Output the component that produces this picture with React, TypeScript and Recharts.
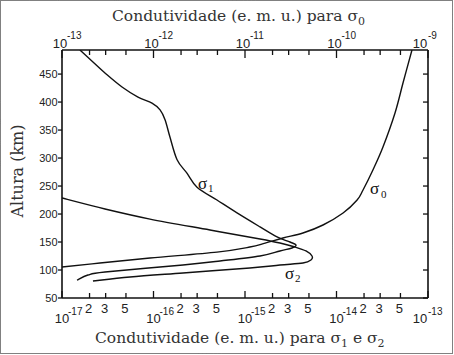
import React from 'react';
import { LineChart, Line, XAxis, YAxis } from 'recharts';

// ---- axes ----
const bottomDecades = [-17, -16, -15, -14, -13];
const topDecades = [-13, -12, -11, -10, -9];
const minorMultipliers = [2, 3, 5];
const altitudeTicks = [50, 100, 150, 200, 250, 300, 350, 400, 450];
const altitudeDomain: [number, number] = [50, 493];

// ---- series (altitude km, conductivity e.m.u.) ----
// sigma0: top axis
const sigma0Alt = [493, 434, 380.5, 319.7, 278.7, 242.9, 225, 201.8, 180.4, 166.1, 157.2, 148, 141, 132, 121.5, 112.5, 105.4];
const sigma0Val = [6.68e-10, 5.33e-10, 4.36e-10, 3.22e-10, 2.5e-10, 1.95e-10, 1.68e-10, 1.18e-10, 7.12e-11, 4.3e-11, 2.6e-11, 1.66e-11, 1.13e-11, 4.94e-12, 9.16e-13, 2.6e-13, 1.0e-13];
// sigma1: bottom axis
const sigma1Alt = [493, 471.6, 452, 427, 409, 398, 386, 368, 338, 297, 273, 248, 225, 202, 177, 159, 150, 144.7, 139.3, 134, 125, 116.1, 109, 96.4, 91, 82];
const sigma1Val = [1.57e-17, 2.18e-17, 2.95e-17, 4.53e-17, 6.77e-17, 9.63e-17, 1.18e-16, 1.34e-16, 1.51e-16, 1.81e-16, 2.32e-16, 2.99e-16, 4.94e-16, 8.18e-16, 1.46e-15, 2.24e-15, 3.1e-15, 3.61e-15, 3.26e-15, 2.41e-15, 1.46e-15, 5.33e-16, 2.1e-16, 2.95e-17, 1.92e-17, 1.46e-17];
// sigma2: bottom axis
const sigma2Alt = [228.6, 209, 191, 171.5, 155.4, 148.2, 141.1, 134, 125, 117.9, 112.5, 108.9, 103.6, 94.7, 87.5, 80.4];
const sigma2Val = [1.0e-17, 2.95e-17, 9.16e-17, 4.14e-16, 1.46e-15, 2.41e-15, 3.52e-15, 4.64e-15, 5.4e-15, 5.26e-15, 4.3e-15, 2.41e-15, 1.13e-15, 2.1e-16, 5.54e-17, 2.18e-17];

const toData = (alt: number[], val: number[]) => alt.map((h, i) => ({ h, s: val[i] }));
const sigma0Data = toData(sigma0Alt, sigma0Val);
const sigma1Data = toData(sigma1Alt, sigma1Val);
const sigma2Data = toData(sigma2Alt, sigma2Val);

type TickInfo = { value: number; major: boolean; label: string; exp: number };
function buildTicks(decades: number[]): TickInfo[] {
  const out: TickInfo[] = [];
  decades.forEach((d, i) => {
    out.push({ value: Number(`1e${d}`), major: true, label: '10', exp: d });
    if (i < decades.length - 1)
      minorMultipliers.forEach((m) => out.push({ value: Number(`${m}e${d}`), major: false, label: String(m), exp: d }));
  });
  return out;
}
const bottomTickInfo = buildTicks(bottomDecades);
const topTickInfo = buildTicks(topDecades);

// smooth parametric curve (Catmull-Rom through the points)
function catmullRom(context: any) {
  let pts: number[][] = [];
  return {
    areaStart() {},
    areaEnd() {},
    lineStart() {
      pts = [];
    },
    point(x: number, y: number) {
      pts.push([+x, +y]);
    },
    lineEnd() {
      if (!pts.length) return;
      context.moveTo(pts[0][0], pts[0][1]);
      for (let i = 0; i < pts.length - 1; i++) {
        const p0 = pts[i - 1] || pts[i];
        const p1 = pts[i];
        const p2 = pts[i + 1];
        const p3 = pts[i + 2] || p2;
        context.bezierCurveTo(
          p1[0] + (p2[0] - p0[0]) / 6,
          p1[1] + (p2[1] - p0[1]) / 6,
          p2[0] - (p3[0] - p1[0]) / 6,
          p2[1] - (p3[1] - p1[1]) / 6,
          p2[0],
          p2[1]
        );
      }
    },
  };
}

const SANS = '"Liberation Sans", Arial, sans-serif';
const SERIF = '"DejaVu Serif", serif';
const SIGMA = '"Liberation Serif", "Times New Roman", serif';
const INK = '#111';
const TXT = '#222';

const findTick = (list: TickInfo[], v: number) => list.find((t) => Math.abs(t.value - v) <= t.value * 1e-6);

const BottomTick = (props: any) => {
  const { x, y, payload } = props;
  const t = findTick(bottomTickInfo, payload.value);
  if (!t) return <g />;
  const last = t.value === bottomTickInfo[bottomTickInfo.length - 1].value;
  const len = t.major ? 7 : 5;
  return (
    <g>
      <line x1={x} y1={y} x2={x} y2={y - len} stroke={INK} strokeWidth={1.3} />
      {t.major ? (
        <>
          <text x={x + (last ? -8 : 0)} y={y + 25} textAnchor="middle" fontFamily={SANS} fontSize={13} fill={TXT}>{t.label}</text>
          <text x={x + (last ? 0 : 6)} y={y + 17} textAnchor="start" fontFamily={SANS} fontSize={10} fill={TXT}>{String(t.exp)}</text>
        </>
      ) : (
        <text x={x - 1} y={y + 15} textAnchor="middle" fontFamily={SANS} fontSize={13} fill={TXT}>{t.label}</text>
      )}
    </g>
  );
};

const TopTick = (props: any) => {
  const { x, y, payload } = props;
  const t = findTick(topTickInfo, payload.value);
  if (!t) return <g />;
  const last = t.value === topTickInfo[topTickInfo.length - 1].value;
  const len = t.major ? 8 : 5;
  return (
    <g>
      <line x1={x} y1={y} x2={x} y2={y + len} stroke={INK} strokeWidth={1.3} />
      {t.major ? (
        <>
          <text x={x + (last ? -8 : -2)} y={y - 2} textAnchor="middle" fontFamily={SANS} fontSize={13} fill={TXT}>{t.label}</text>
          <text x={x + (last ? 0 : 5)} y={y - 11} textAnchor="start" fontFamily={SANS} fontSize={10} fill={TXT}>{String(t.exp)}</text>
        </>
      ) : null}
    </g>
  );
};

const LeftTick = (props: any) => {
  const { x, y, payload } = props;
  return (
    <g>
      <line x1={x - 4} y1={y} x2={x} y2={y} stroke={INK} strokeWidth={1.3} />
      <text x={x - 4.5} y={y} dy="0.35em" textAnchor="end" fontFamily={SANS} fontSize={11} fill={TXT}>{payload.value}</text>
    </g>
  );
};

const RightTick = (props: any) => {
  const { x, y } = props;
  return <line x1={x} y1={y} x2={x - 5} y2={y} stroke={INK} strokeWidth={1.3} />;
};

const axisLine = { stroke: INK, strokeWidth: 1.6 };

export default function App() {
  return (
    <div style={{ position: 'absolute', left: 0, top: 0, width: 454, height: 355, background: '#fff' }}>
      <LineChart width={454} height={355} margin={{ top: 0, right: 0, bottom: 0, left: 0 }}>
        <XAxis xAxisId="b" orientation="bottom" type="number" dataKey="s" scale="log" domain={[1e-17, 1e-13]}
          ticks={bottomTickInfo.map((t) => t.value)} interval={0} height={57} tickSize={0} tickMargin={0}
          tickLine={false} axisLine={axisLine} tick={<BottomTick />} allowDataOverflow />
        <XAxis xAxisId="t" orientation="top" type="number" dataKey="s" scale="log" domain={[1e-13, 1e-9]}
          ticks={topTickInfo.map((t) => t.value)} interval={0} height={50} tickSize={0} tickMargin={0}
          tickLine={false} axisLine={axisLine} tick={<TopTick />} allowDataOverflow />
        <YAxis yAxisId="l" orientation="left" type="number" dataKey="h" domain={altitudeDomain}
          ticks={altitudeTicks} interval={0} width={62} tickSize={0} tickMargin={0}
          tickLine={false} axisLine={axisLine} tick={<LeftTick />} allowDataOverflow />
        <YAxis yAxisId="r" orientation="right" type="number" dataKey="h" domain={altitudeDomain}
          ticks={altitudeTicks} interval={0} width={26} tickSize={0} tickMargin={0}
          tickLine={false} axisLine={axisLine} tick={<RightTick />} allowDataOverflow />
        <Line xAxisId="t" yAxisId="l" data={sigma0Data} dataKey="h" type={catmullRom as any} dot={false} activeDot={false}
          stroke={INK} strokeWidth={1.4} isAnimationActive={false} />
        <Line xAxisId="b" yAxisId="l" data={sigma1Data} dataKey="h" type={catmullRom as any} dot={false} activeDot={false}
          stroke={INK} strokeWidth={1.4} isAnimationActive={false} />
        <Line xAxisId="b" yAxisId="l" data={sigma2Data} dataKey="h" type={catmullRom as any} dot={false} activeDot={false}
          stroke={INK} strokeWidth={1.4} isAnimationActive={false} />
      </LineChart>
      <svg width={454} height={355} style={{ position: 'absolute', left: 0, top: 0, pointerEvents: 'none' }}>
        <rect x={0.5} y={0.5} width={452} height={353} fill="none" stroke="#000" strokeDasharray="1 1" />
        <g fontFamily={SERIF} fontSize={15.5} fill="#333">
          <text x={112} y={21}>
            Condutividade (e. m. u.) para σ<tspan dy={4} fontSize={11}>0</tspan>
          </text>
          <text x={95} y={343}>
            Condutividade (e. m. u.) para σ<tspan dy={4} fontSize={11}>1</tspan>
            <tspan dy={-4}> e σ</tspan>
            <tspan dy={4} fontSize={11}>2</tspan>
          </text>
          <text transform="translate(23,171) rotate(-90)" textAnchor="middle" fontSize={16}>Altura (km)</text>
        </g>
        <g fontFamily={SIGMA} fill={INK}>
          <text y={188.5}><tspan x={198} fontSize={17}>σ</tspan><tspan x={208} dy={3.5} fontSize={11}>1</tspan></text>
          <text y={193.5}><tspan x={370} fontSize={17}>σ</tspan><tspan x={381} dy={4.5} fontSize={11}>0</tspan></text>
          <text y={278.5}><tspan x={285} fontSize={17}>σ</tspan><tspan x={295} dy={3.5} fontSize={11}>2</tspan></text>
        </g>
      </svg>
    </div>
  );
}
